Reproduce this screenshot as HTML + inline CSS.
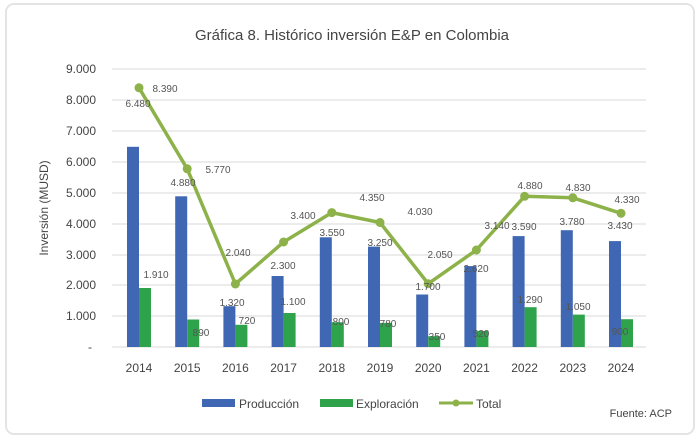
<!DOCTYPE html><html><head><meta charset="utf-8"><style>body{margin:0;background:#fff}svg{display:block;font-family:"Liberation Sans",sans-serif}</style></head><body>
<svg width="700" height="441" viewBox="0 0 700 441">
<rect x="0" y="0" width="700" height="441" fill="#fff"/>
<rect x="6" y="4" width="688" height="430" rx="8" fill="none" stroke="#e4e4e4" stroke-width="2"/>
<text x="352" y="40" font-size="15" fill="#444" text-anchor="middle">Gráfica 8. Histórico inversión E&amp;P en Colombia</text>
<g stroke="#d9d9d9" stroke-width="1">
<line x1="112" x2="646" y1="69" y2="69"/><line x1="112" x2="646" y1="100" y2="100"/><line x1="112" x2="646" y1="131" y2="131"/><line x1="112" x2="646" y1="162" y2="162"/><line x1="112" x2="646" y1="193" y2="193"/><line x1="112" x2="646" y1="224" y2="224"/><line x1="112" x2="646" y1="255" y2="255"/><line x1="112" x2="646" y1="285" y2="285"/><line x1="112" x2="646" y1="316" y2="316"/><line x1="112" x2="646" y1="347" y2="347"/>
</g>
<g font-size="12" fill="#444" text-anchor="end">
<text x="96" y="73">9.000</text><text x="96" y="104">8.000</text><text x="96" y="135">7.000</text><text x="96" y="166">6.000</text><text x="96" y="197">5.000</text><text x="96" y="228">4.000</text><text x="96" y="259">3.000</text><text x="96" y="289">2.000</text><text x="96" y="320">1.000</text><text x="92" y="351">-</text>
</g>
<text transform="translate(48 208) rotate(-90)" font-size="12" fill="#444" text-anchor="middle">Inversión (MUSD)</text>
<g fill="#3f67b3">
<rect x="127" y="146.8" width="12" height="200.2"/><rect x="175.2" y="196.3" width="12" height="150.7"/><rect x="223.4" y="306.2" width="12" height="40.8"/><rect x="271.6" y="276" width="12" height="71"/><rect x="319.8" y="237.3" width="12" height="109.7"/><rect x="368" y="246.6" width="12" height="100.4"/><rect x="416.2" y="294.5" width="12" height="52.5"/><rect x="464.4" y="266.1" width="12" height="80.9"/><rect x="512.6" y="236.1" width="12" height="110.9"/><rect x="560.8" y="230.2" width="12" height="116.8"/><rect x="609" y="241.1" width="12" height="105.9"/>
</g>
<g fill="#2fa34c">
<rect x="139" y="288" width="12" height="59"/><rect x="187.2" y="319.5" width="12" height="27.5"/><rect x="235.4" y="324.8" width="12" height="22.2"/><rect x="283.6" y="313" width="12" height="34"/><rect x="331.8" y="322.3" width="12" height="24.7"/><rect x="380" y="322.9" width="12" height="24.1"/><rect x="428.2" y="336.2" width="12" height="10.8"/><rect x="476.4" y="330.9" width="12" height="16.1"/><rect x="524.6" y="307.2" width="12" height="39.8"/><rect x="572.8" y="314.6" width="12" height="32.4"/><rect x="621" y="319.2" width="12" height="27.8"/>
</g>
<polyline fill="none" stroke="#8db24a" stroke-width="3.5" stroke-linejoin="round" points="139,87.8 187.2,168.8 235.4,284 283.6,242 331.8,212.6 380,222.5 428.2,283.7 476.4,250 524.6,196.3 572.8,197.8 621,213.3"/>
<g fill="#8db24a"><circle cx="139" cy="87.8" r="4.5"/><circle cx="187.2" cy="168.8" r="4.5"/><circle cx="235.4" cy="284" r="4.5"/><circle cx="283.6" cy="242" r="4.5"/><circle cx="331.8" cy="212.6" r="4.5"/><circle cx="380" cy="222.5" r="4.5"/><circle cx="428.2" cy="283.7" r="4.5"/><circle cx="476.4" cy="250" r="4.5"/><circle cx="524.6" cy="196.3" r="4.5"/><circle cx="572.8" cy="197.8" r="4.5"/><circle cx="621" cy="213.3" r="4.5"/></g>
<g font-size="10" fill="#555" text-anchor="middle">
<text x="165" y="92">8.390</text><text x="218" y="173">5.770</text><text x="238" y="256">2.040</text><text x="303" y="219">3.400</text><text x="372" y="201">4.350</text><text x="420" y="215">4.030</text><text x="440" y="258">2.050</text><text x="497" y="229">3.140</text><text x="530" y="189">4.880</text><text x="578" y="191">4.830</text><text x="627" y="203">4.330</text>
<text x="138" y="107">6.480</text><text x="183" y="186">4.880</text><text x="232" y="306">1.320</text><text x="283" y="269">2.300</text><text x="332" y="236">3.550</text><text x="380" y="246">3.250</text><text x="428" y="290">1.700</text><text x="476" y="272">2.620</text><text x="524" y="230">3.590</text><text x="572" y="225">3.780</text><text x="620" y="229">3.430</text>
<text x="156" y="278">1.910</text><text x="201" y="336">890</text><text x="247" y="324">720</text><text x="293" y="305">1.100</text><text x="341" y="325">800</text><text x="388" y="327">780</text><text x="437" y="340">350</text><text x="481" y="337">520</text><text x="530" y="303">1.290</text><text x="578" y="310">1.050</text><text x="620" y="335">900</text>
</g>
<g font-size="12" fill="#444" text-anchor="middle">
<text x="139" y="372">2014</text><text x="187.2" y="372">2015</text><text x="235.4" y="372">2016</text><text x="283.6" y="372">2017</text><text x="331.8" y="372">2018</text><text x="380" y="372">2019</text><text x="428.2" y="372">2020</text><text x="476.4" y="372">2021</text><text x="524.6" y="372">2022</text><text x="572.8" y="372">2023</text><text x="621" y="372">2024</text>
</g>
<rect x="202" y="399" width="33" height="8" fill="#3f67b3"/>
<text x="239" y="408" font-size="12" fill="#444">Producción</text>
<rect x="320" y="399" width="33" height="8" fill="#2fa34c"/>
<text x="356" y="408" font-size="12" fill="#444">Exploración</text>
<line x1="439" x2="473" y1="403" y2="403" stroke="#8db24a" stroke-width="3"/><circle cx="456" cy="403" r="3.5" fill="#8db24a"/>
<text x="476" y="408" font-size="12" fill="#444">Total</text>
<text x="672" y="417" font-size="11" fill="#444" text-anchor="end">Fuente: ACP</text>
</svg></body></html>
